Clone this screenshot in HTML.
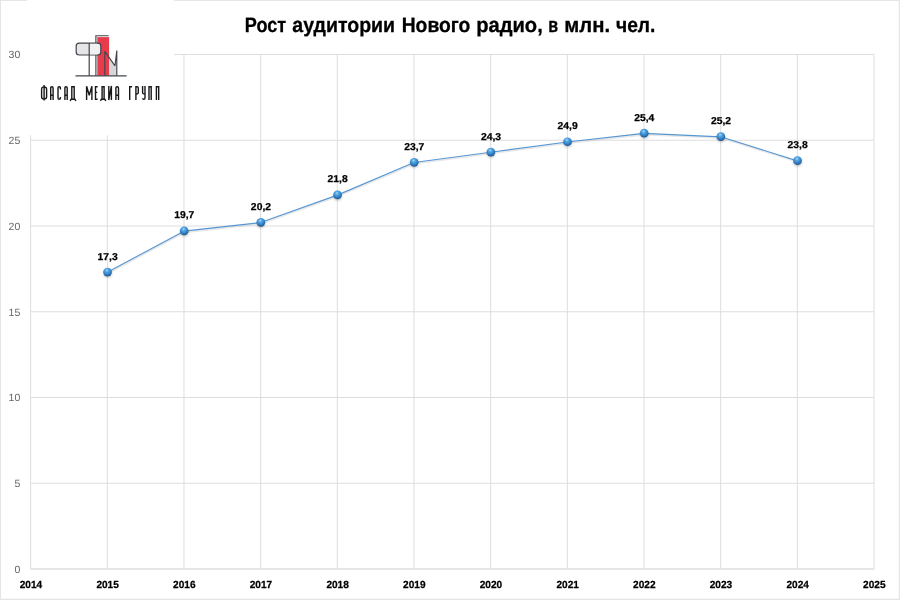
<!DOCTYPE html><html><head><meta charset="utf-8"><title>chart</title><style>html,body{margin:0;padding:0;background:#fff}svg{display:block;will-change:transform}text{font-family:"Liberation Sans",sans-serif;text-rendering:geometricPrecision}</style></head><body>
<svg width="900" height="600" viewBox="0 0 900 600">
<defs><radialGradient id="g" cx="0.45" cy="0.32" r="0.62" fx="0.42" fy="0.28"><stop offset="0" stop-color="#a5defc"/><stop offset="0.3" stop-color="#55a7e3"/><stop offset="0.7" stop-color="#3483c9"/><stop offset="1" stop-color="#23609b"/></radialGradient>
<filter id="sh" x="-50%" y="-50%" width="200%" height="200%"><feGaussianBlur stdDeviation="0.8"/></filter></defs>
<rect width="900" height="600" fill="#fff"/>
<rect x="0" y="0" width="1.05" height="600" fill="#e5e5e5"/>
<rect x="0" y="0" width="900" height="0.9" fill="#e5e5e5"/>
<rect x="898.7" y="0" width="1.3" height="600" fill="#e6e6e6"/>
<rect x="0" y="598.7" width="900" height="1.3" fill="#e5e5e5"/>
<line x1="30.65" y1="54.5" x2="30.65" y2="569.0" stroke="#dedede" stroke-width="1"/>
<line x1="107.32" y1="54.5" x2="107.32" y2="569.0" stroke="#dedede" stroke-width="1"/>
<line x1="183.99" y1="54.5" x2="183.99" y2="569.0" stroke="#dedede" stroke-width="1"/>
<line x1="260.65" y1="54.5" x2="260.65" y2="569.0" stroke="#dedede" stroke-width="1"/>
<line x1="337.32" y1="54.5" x2="337.32" y2="569.0" stroke="#dedede" stroke-width="1"/>
<line x1="413.99" y1="54.5" x2="413.99" y2="569.0" stroke="#dedede" stroke-width="1"/>
<line x1="490.66" y1="54.5" x2="490.66" y2="569.0" stroke="#dedede" stroke-width="1"/>
<line x1="567.33" y1="54.5" x2="567.33" y2="569.0" stroke="#dedede" stroke-width="1"/>
<line x1="644.00" y1="54.5" x2="644.00" y2="569.0" stroke="#dedede" stroke-width="1"/>
<line x1="720.66" y1="54.5" x2="720.66" y2="569.0" stroke="#dedede" stroke-width="1"/>
<line x1="797.33" y1="54.5" x2="797.33" y2="569.0" stroke="#dedede" stroke-width="1"/>
<line x1="874.00" y1="54.5" x2="874.00" y2="569.0" stroke="#dedede" stroke-width="1"/>
<line x1="30.65" y1="54.50" x2="874.0" y2="54.50" stroke="#dedede" stroke-width="1"/>
<line x1="30.65" y1="140.25" x2="874.0" y2="140.25" stroke="#dedede" stroke-width="1"/>
<line x1="30.65" y1="226.00" x2="874.0" y2="226.00" stroke="#dedede" stroke-width="1"/>
<line x1="30.65" y1="311.75" x2="874.0" y2="311.75" stroke="#dedede" stroke-width="1"/>
<line x1="30.65" y1="397.50" x2="874.0" y2="397.50" stroke="#dedede" stroke-width="1"/>
<line x1="30.65" y1="483.25" x2="874.0" y2="483.25" stroke="#dedede" stroke-width="1"/>
<line x1="30.65" y1="569.00" x2="874.0" y2="569.00" stroke="#dedede" stroke-width="1.3"/>
<rect x="1.2" y="1.2" width="172.8" height="134.1" fill="#fff"/>
<rect x="27" y="-1" width="147" height="3" fill="#fff"/>
<text x="20.3" y="572.85" font-size="10.5" fill="#666" text-anchor="end">0</text>
<text x="20.3" y="487.10" font-size="10.5" fill="#666" text-anchor="end">5</text>
<text x="20.3" y="401.35" font-size="10.5" fill="#666" text-anchor="end">10</text>
<text x="20.3" y="315.60" font-size="10.5" fill="#666" text-anchor="end">15</text>
<text x="20.3" y="229.85" font-size="10.5" fill="#666" text-anchor="end">20</text>
<text x="20.3" y="144.10" font-size="10.5" fill="#666" text-anchor="end">25</text>
<text x="20.3" y="58.35" font-size="10.5" fill="#666" text-anchor="end">30</text>
<text transform="translate(30.95,587.7) scale(0.98,1)" font-size="10.3" font-weight="bold" fill="#000" stroke="#000" stroke-width="0.25" text-anchor="middle">2014</text>
<text transform="translate(107.62,587.7) scale(0.98,1)" font-size="10.3" font-weight="bold" fill="#000" stroke="#000" stroke-width="0.25" text-anchor="middle">2015</text>
<text transform="translate(184.29,587.7) scale(0.98,1)" font-size="10.3" font-weight="bold" fill="#000" stroke="#000" stroke-width="0.25" text-anchor="middle">2016</text>
<text transform="translate(260.95,587.7) scale(0.98,1)" font-size="10.3" font-weight="bold" fill="#000" stroke="#000" stroke-width="0.25" text-anchor="middle">2017</text>
<text transform="translate(337.62,587.7) scale(0.98,1)" font-size="10.3" font-weight="bold" fill="#000" stroke="#000" stroke-width="0.25" text-anchor="middle">2018</text>
<text transform="translate(414.29,587.7) scale(0.98,1)" font-size="10.3" font-weight="bold" fill="#000" stroke="#000" stroke-width="0.25" text-anchor="middle">2019</text>
<text transform="translate(490.96,587.7) scale(0.98,1)" font-size="10.3" font-weight="bold" fill="#000" stroke="#000" stroke-width="0.25" text-anchor="middle">2020</text>
<text transform="translate(567.63,587.7) scale(0.98,1)" font-size="10.3" font-weight="bold" fill="#000" stroke="#000" stroke-width="0.25" text-anchor="middle">2021</text>
<text transform="translate(644.30,587.7) scale(0.98,1)" font-size="10.3" font-weight="bold" fill="#000" stroke="#000" stroke-width="0.25" text-anchor="middle">2022</text>
<text transform="translate(720.96,587.7) scale(0.98,1)" font-size="10.3" font-weight="bold" fill="#000" stroke="#000" stroke-width="0.25" text-anchor="middle">2023</text>
<text transform="translate(797.63,587.7) scale(0.98,1)" font-size="10.3" font-weight="bold" fill="#000" stroke="#000" stroke-width="0.25" text-anchor="middle">2024</text>
<text transform="translate(874.30,587.7) scale(0.98,1)" font-size="10.3" font-weight="bold" fill="#000" stroke="#000" stroke-width="0.25" text-anchor="middle">2025</text>
<text x="244.83" y="31.85" font-size="20.9" font-weight="bold" fill="#000" stroke="#000" stroke-width="0.3" textLength="41.37" lengthAdjust="spacingAndGlyphs">Рост</text>
<text x="292.30" y="31.85" font-size="20.9" font-weight="bold" fill="#000" stroke="#000" stroke-width="0.3" textLength="102.79" lengthAdjust="spacingAndGlyphs">аудитории</text>
<text x="401.68" y="31.85" font-size="20.9" font-weight="bold" fill="#000" stroke="#000" stroke-width="0.3" textLength="68.73" lengthAdjust="spacingAndGlyphs">Нового</text>
<text x="476.13" y="31.85" font-size="20.9" font-weight="bold" fill="#000" stroke="#000" stroke-width="0.3" textLength="66.64" lengthAdjust="spacingAndGlyphs">радио,</text>
<text x="548.33" y="31.85" font-size="20.9" font-weight="bold" fill="#000" stroke="#000" stroke-width="0.3" textLength="9.85" lengthAdjust="spacingAndGlyphs">в</text>
<text x="564.33" y="31.85" font-size="20.9" font-weight="bold" fill="#000" stroke="#000" stroke-width="0.3" textLength="45.75" lengthAdjust="spacingAndGlyphs">млн.</text>
<text x="616.00" y="31.85" font-size="20.9" font-weight="bold" fill="#000" stroke="#000" stroke-width="0.3" textLength="39.44" lengthAdjust="spacingAndGlyphs">чел.</text>
<path d="M107.32,272.31 L183.99,231.15 L260.65,222.57 L337.32,195.13 L413.99,162.55 L490.66,152.25 L567.33,141.97 L644.00,133.39 L720.66,136.82 L797.33,160.83" fill="none" stroke="#b9b9b9" stroke-opacity="0.35" stroke-width="1.6" transform="translate(0.6,1.2)"/>
<path d="M107.32,272.31 L183.99,231.15 L260.65,222.57 L337.32,195.13 L413.99,162.55 L490.66,152.25 L567.33,141.97 L644.00,133.39 L720.66,136.82 L797.33,160.83" fill="none" stroke="#5596d3" stroke-width="1.15" stroke-linejoin="round"/>
<ellipse cx="107.62" cy="273.61" rx="4.2" ry="4" fill="#555" opacity="0.35" filter="url(#sh)"/>
<circle cx="107.52" cy="272.11" r="4.35" fill="url(#g)"/>
<ellipse cx="184.29" cy="232.45" rx="4.2" ry="4" fill="#555" opacity="0.35" filter="url(#sh)"/>
<circle cx="184.19" cy="230.95" r="4.35" fill="url(#g)"/>
<ellipse cx="260.95" cy="223.87" rx="4.2" ry="4" fill="#555" opacity="0.35" filter="url(#sh)"/>
<circle cx="260.85" cy="222.37" r="4.35" fill="url(#g)"/>
<ellipse cx="337.62" cy="196.43" rx="4.2" ry="4" fill="#555" opacity="0.35" filter="url(#sh)"/>
<circle cx="337.52" cy="194.93" r="4.35" fill="url(#g)"/>
<ellipse cx="414.29" cy="163.85" rx="4.2" ry="4" fill="#555" opacity="0.35" filter="url(#sh)"/>
<circle cx="414.19" cy="162.35" r="4.35" fill="url(#g)"/>
<ellipse cx="490.96" cy="153.56" rx="4.2" ry="4" fill="#555" opacity="0.35" filter="url(#sh)"/>
<circle cx="490.86" cy="152.06" r="4.35" fill="url(#g)"/>
<ellipse cx="567.63" cy="143.27" rx="4.2" ry="4" fill="#555" opacity="0.35" filter="url(#sh)"/>
<circle cx="567.53" cy="141.77" r="4.35" fill="url(#g)"/>
<ellipse cx="644.30" cy="134.69" rx="4.2" ry="4" fill="#555" opacity="0.35" filter="url(#sh)"/>
<circle cx="644.20" cy="133.19" r="4.35" fill="url(#g)"/>
<ellipse cx="720.96" cy="138.12" rx="4.2" ry="4" fill="#555" opacity="0.35" filter="url(#sh)"/>
<circle cx="720.86" cy="136.62" r="4.35" fill="url(#g)"/>
<ellipse cx="797.63" cy="162.13" rx="4.2" ry="4" fill="#555" opacity="0.35" filter="url(#sh)"/>
<circle cx="797.53" cy="160.63" r="4.35" fill="url(#g)"/>
<text transform="translate(107.62,259.61) scale(1.035,1)" font-size="10" font-weight="bold" fill="#000" stroke="#000" stroke-width="0.25" text-anchor="middle">17,3</text>
<text transform="translate(184.29,218.45) scale(1.035,1)" font-size="10" font-weight="bold" fill="#000" stroke="#000" stroke-width="0.25" text-anchor="middle">19,7</text>
<text transform="translate(260.95,209.87) scale(1.035,1)" font-size="10" font-weight="bold" fill="#000" stroke="#000" stroke-width="0.25" text-anchor="middle">20,2</text>
<text transform="translate(337.62,182.43) scale(1.035,1)" font-size="10" font-weight="bold" fill="#000" stroke="#000" stroke-width="0.25" text-anchor="middle">21,8</text>
<text transform="translate(414.29,149.85) scale(1.035,1)" font-size="10" font-weight="bold" fill="#000" stroke="#000" stroke-width="0.25" text-anchor="middle">23,7</text>
<text transform="translate(490.96,139.56) scale(1.035,1)" font-size="10" font-weight="bold" fill="#000" stroke="#000" stroke-width="0.25" text-anchor="middle">24,3</text>
<text transform="translate(567.63,129.27) scale(1.035,1)" font-size="10" font-weight="bold" fill="#000" stroke="#000" stroke-width="0.25" text-anchor="middle">24,9</text>
<text transform="translate(644.30,120.69) scale(1.035,1)" font-size="10" font-weight="bold" fill="#000" stroke="#000" stroke-width="0.25" text-anchor="middle">25,4</text>
<text transform="translate(720.96,124.12) scale(1.035,1)" font-size="10" font-weight="bold" fill="#000" stroke="#000" stroke-width="0.25" text-anchor="middle">25,2</text>
<text transform="translate(797.63,148.13) scale(1.035,1)" font-size="10" font-weight="bold" fill="#000" stroke="#000" stroke-width="0.25" text-anchor="middle">23,8</text>
<g id="logo">
<rect x="76.2" y="43.2" width="24.6" height="11.8" rx="3" ry="3" fill="#e6e6e8" stroke="#42464b" stroke-width="1.2"/>
<rect x="89.8" y="43.8" width="7.6" height="10.6" fill="#f1f1f2"/>
<line x1="89.2" y1="43" x2="89.2" y2="75.7" stroke="#42464b" stroke-width="1.2"/>
<path d="M95.9,43 V35.7 H108.6" fill="none" stroke="#42464b" stroke-width="1.15"/>
<path d="M95.9,55 V75.7" fill="none" stroke="#42464b" stroke-width="1.15"/>
<rect x="97.3" y="37.1" width="11.8" height="38.6" fill="#e83c4c"/>
<path d="M109.1,57.4 L115,65.8 L116.5,58 V75.7 H109.1 Z" fill="#d6d6d8"/>
<path d="M104.8,75.7 V51.3 L115,65.8 L116.8,50.6 V75.7" fill="none" stroke="#42464b" stroke-width="1.15" stroke-linejoin="bevel"/>
<path d="M97,43.2 H97.8 Q100.8,43.2 100.8,46.2 V52 Q100.8,55 97.8,55 H97" fill="#f1f1f2" stroke="#42464b" stroke-width="1.2"/>
<line x1="75.5" y1="75.9" x2="126.6" y2="75.9" stroke="#42464b" stroke-width="1.2"/>
<path transform="translate(40,86)" d="M4.10,-0.9 V14.4 M4.10,0.9 Q1.60,0.9 1.60,3.2 V10.8 Q1.60,13.1 4.10,13.1 Q6.60,13.1 6.60,10.8 V3.2 Q6.60,0.9 4.10,0.9 M10.70,14 V2.1 Q10.70,0.7 11.90,0.7 Q13.10,0.7 13.10,2.1 V14 M10.70,9.3 H13.10 M20.40,3.4 V2.1 Q20.40,0.7 19.20,0.7 Q18.00,0.7 18.00,2.1 V11.9 Q18.00,13.3 19.20,13.3 Q20.40,13.3 20.40,11.9 V10.9 M24.90,14 V2.1 Q24.90,0.7 26.05,0.7 Q27.20,0.7 27.20,2.1 V14 M24.90,9.3 H27.20 M31.80,13.3 V0.7 H34.20 V13.3 M30.10,14.9 L31.10,13.3 H34.90 L35.90,14.9 M57.60,0.7 H55.50 V13.3 H57.60 M55.50,6.4 H57.20 M62.10,13.3 V0.7 H64.10 V13.3 M60.40,14.9 L61.40,13.3 H64.80 L65.80,14.9 M75.90,14 V2.1 Q75.90,0.7 77.20,0.7 Q78.50,0.7 78.50,2.1 V14 M75.90,9.3 H78.50 M89.70,14 V0.7 H92.10 M95.90,14 V0.7 H96.90 Q98.30,0.7 98.30,2.1 V6.6 Q98.30,8 96.90,8 H95.90 M102.60,0 V6.6 Q102.60,7.9 103.80,7.9 H105.00 M105.00,0 V12 Q105.00,13.3 103.80,13.3 Q102.60,13.3 102.60,12.2 M109.00,14 V0.7 H111.20 V14 M116.40,14 V0.7 H118.70 V14" fill="none" stroke="#18181a" stroke-width="1.4" stroke-linejoin="miter"/>
<path transform="translate(40,86)" d="M46.60,14 V0.2 L49.25,9.2 L51.90,0.2 V14 M68.80,0 V14 L71.40,0 V14" fill="none" stroke="#18181a" stroke-width="1.4" stroke-linejoin="bevel"/>
</g>
</svg></body></html>
